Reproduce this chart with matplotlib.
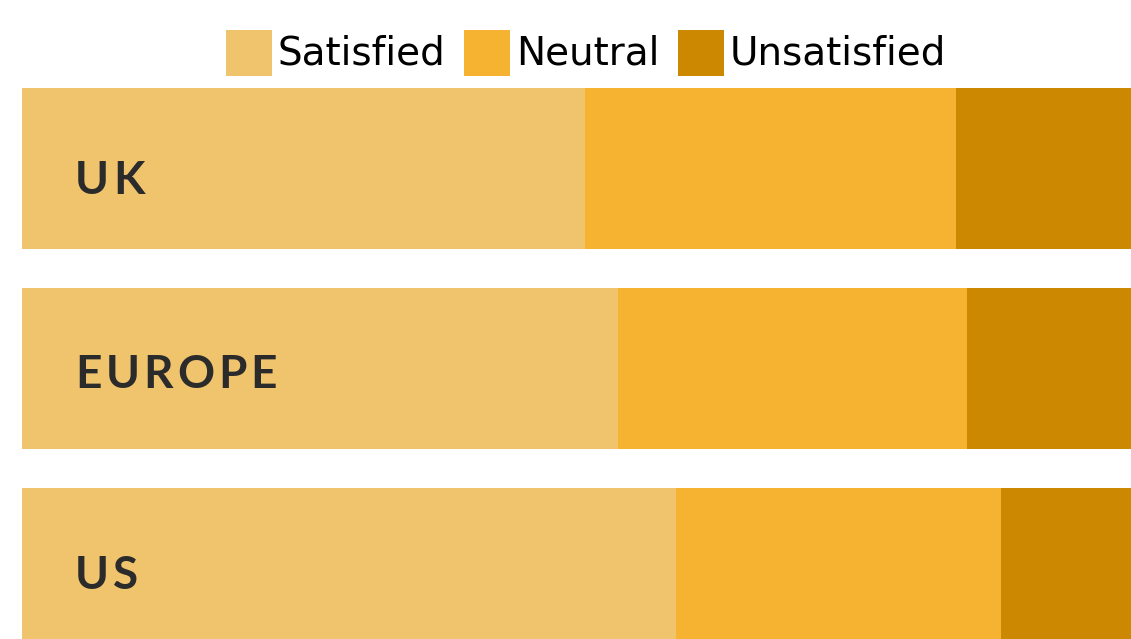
import numpy as np
import matplotlib
matplotlib.use("Agg")
import matplotlib.pyplot as plt
import matplotlib.transforms as mtransforms
from matplotlib.lines import Line2D

# data (percent of respondents)
regions = ["UK", "EUROPE", "US"]
satisfied = [50.8, 53.7, 59.0]
neutral = [33.4, 31.5, 29.3]
unsatisfied = [15.8, 14.8, 11.7]

series_names = ["Satisfied", "Neutral", "Unsatisfied"]
colors = ["#f0c36d", "#f5b331", "#cc8800"]

plt.rcParams['font.family'] = ['Lato', 'DejaVu Sans']

fig = plt.figure(figsize=(11.31, 6.39), dpi=100)
ax = fig.add_axes([22/1131, 0, 1109/1131, 551/639])

y = np.arange(len(regions))
left = np.zeros(len(regions))
for vals, c in zip([satisfied, neutral, unsatisfied], colors):
    ax.barh(y, vals, left=left, height=0.805, color=c, linewidth=0)
    left += np.array(vals)

ax.set_xlim(0, 100)
ax.set_ylim(2.3525, -0.4025)
ax.axis('off')

# region labels, drawn letter by letter for the wide tracking
renderer = fig.canvas.get_renderer()
label_drop = [25.5, 19.5, 20.5]   # baseline below bar centre, px
tracking = 4.0
for yi, name, drop in zip(y, regions, label_drop):
    xpos = 0.0
    for ch in name:
        tr = mtransforms.offset_copy(ax.transData, fig=fig, x=xpos * 72 / fig.dpi,
                                     y=-drop * 72 / fig.dpi, units='points')
        t = ax.text(4.8, yi, ch, fontsize=33, fontweight='bold', color='#2b2b2b',
                    va='baseline', ha='left', transform=tr)
        xpos += t.get_window_extent(renderer).width + tracking

# legend with square swatches (46 px)
handles = [Line2D([], [], linestyle='none', marker='s', markersize=33.1,
                  markerfacecolor=c, markeredgewidth=0) for c in colors]
leg = fig.legend(handles, series_names, loc='center', bbox_to_anchor=(586/1131, 1 - 57/639),
                 ncol=3, frameon=False, prop={'family': 'DejaVu Sans', 'size': 28},
                 handlelength=1.18, handleheight=1.18,
                 handletextpad=0.15, columnspacing=0.48, borderaxespad=0, borderpad=0)
# lift the legend words a little so they sit centred on the swatches
for t in leg.get_texts():
    t.set_y(5)

fig.savefig("out.png", dpi=100)
